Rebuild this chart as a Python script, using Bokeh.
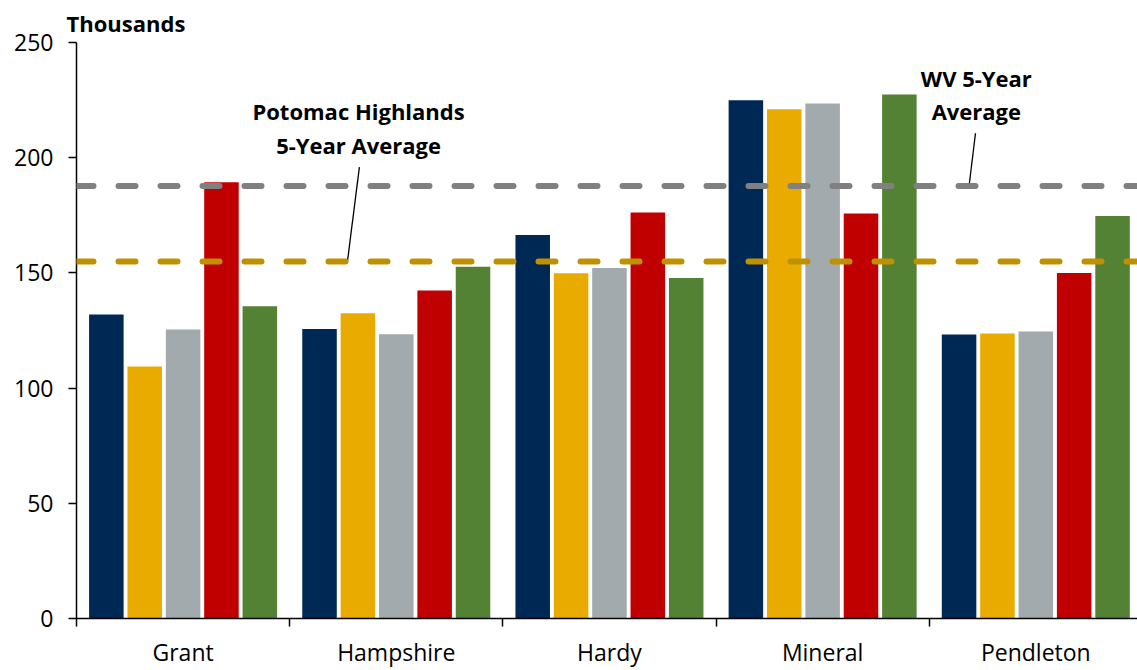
import numpy as np
from bokeh.plotting import figure
from bokeh.models import Range1d, FixedTicker, Span, Label
from bokeh.embed import file_html
from bokeh.resources import INLINE

# ---------------- data ----------------
counties = ["Grant", "Hampshire", "Hardy", "Mineral", "Pendleton"]
series1 = [131.9, 125.6, 166.5, 224.9, 123.3]
series2 = [109.4, 132.5, 149.8, 221.0, 123.7]
series3 = [125.4, 123.4, 152.1, 223.5, 124.6]
series4 = [189.3, 142.4, 176.2, 175.8, 150.0]
series5 = [135.5, 152.7, 147.8, 227.4, 174.7]
series_colors = ["#002855", "#EAAB00", "#A2AAAD", "#C00000", "#548235"]
wv_avg = 187.7
ph_avg = 155.0
y_ticks = [0, 50, 100, 150, 200, 250]

FONT = "Open Sans"

p = figure(width=1137, height=670, output_backend="svg", toolbar_location=None,
           x_range=Range1d(0, 4.977), y_range=Range1d(0, 250),
           min_border_left=76, min_border_right=0, min_border_top=42, min_border_bottom=50)

p.title.text = "Thousands"
p.title.align = "left"
p.title.offset = -10
p.title.text_font = FONT
p.title.text_font_size = "22px"
p.title.text_font_style = "bold"
p.title.text_color = "black"
p.title.standoff = 10

series = [series1, series2, series3, series4, series5]
offsets = [-0.36, -0.18, 0.0, 0.18, 0.36]
centers = np.arange(len(counties)) + 0.5
for vals, off, col in zip(series, offsets, series_colors):
    p.vbar(x=centers + off, top=vals, bottom=0, width=0.162,
           fill_color=col, line_color=None)

# average lines
for val, col in [(wv_avg, "#808080"), (ph_avg, "#BF9000")]:
    p.add_layout(Span(location=val, dimension="width", line_color=col,
                      line_width=6, line_dash="17 25", line_cap="round"))

# annotations
def lab(x, y, t):
    p.add_layout(Label(x=x, y=y, text=t, text_align="center", text_baseline="middle",
                       text_font=FONT, text_font_size="22px", text_font_style="bold",
                       text_color="black"))

lab(1.323, 220.4, "Potomac Highlands")
lab(1.323, 205.6, "5-Year Average")
lab(4.221, 234.8, "WV 5-Year")
lab(4.221, 220.1, "Average")

p.segment(x0=[1.327, 4.217], y0=[195.9, 210.6], x1=[1.271, 4.188], y1=[ph_avg, wv_avg + 0.9],
          line_color="black", line_width=1.3)

# axes
p.grid.visible = False
p.outline_line_color = None

xa = p.xaxis[0]
xa.ticker = FixedTicker(ticks=list(centers), minor_ticks=list(range(len(counties) + 1)))
xa.major_label_overrides = {float(c): n for c, n in zip(centers, counties)}
xa.major_tick_out = 0
xa.major_tick_in = 0
xa.minor_tick_out = 8
xa.minor_tick_in = 0
xa.minor_tick_line_color = "black"
xa.minor_tick_line_width = 1.5
xa.axis_line_color = "black"
xa.axis_line_width = 1.5
xa.major_label_text_font = FONT
xa.major_label_text_font_size = "23px"
xa.major_label_text_color = "black"
xa.major_label_standoff = 9

ya = p.yaxis[0]
ya.ticker = FixedTicker(ticks=y_ticks)
ya.major_tick_out = 8
ya.major_tick_in = 0
ya.minor_tick_out = 0
ya.minor_tick_in = 0
ya.major_tick_line_color = "black"
ya.major_tick_line_width = 1.5
ya.axis_line_color = "black"
ya.axis_line_width = 1.5
ya.major_label_text_font = FONT
ya.major_label_text_font_size = "23px"
ya.major_label_text_color = "black"
ya.major_label_standoff = 15

open("out.html", "w").write(file_html(p, INLINE))
